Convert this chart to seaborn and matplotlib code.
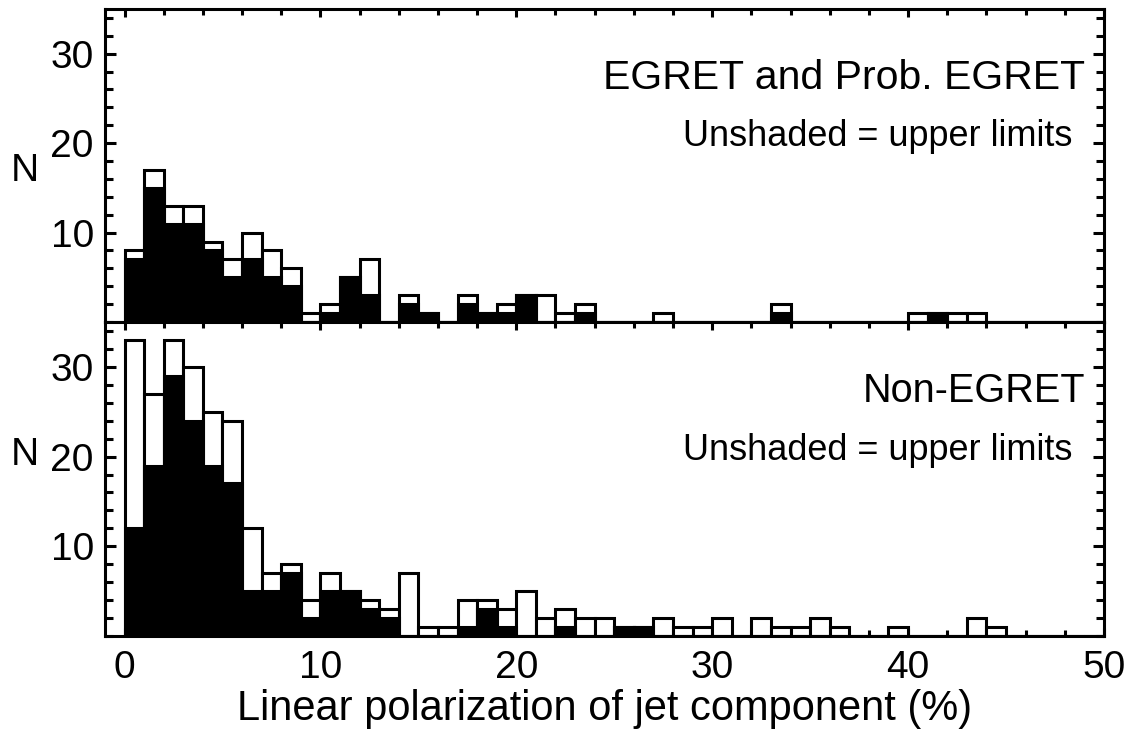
import numpy as np
import matplotlib
matplotlib.use("Agg")
import matplotlib.pyplot as plt
import seaborn as sns
from matplotlib.ticker import MultipleLocator

# counts per 1% bin, 0..50
bin_edges = list(range(0, 51))
bin_centers = [b + 0.5 for b in range(50)]

egret_total = [8, 17, 13, 13, 9, 7, 10, 8, 6, 1,
               2, 5, 7, 0, 3, 1, 0, 3, 1, 2,
               3, 3, 1, 2, 0, 0, 0, 1, 0, 0,
               0, 0, 0, 2, 0, 0, 0, 0, 0, 0,
               1, 1, 1, 1, 0, 0, 0, 0, 0, 0]
egret_detect = [7, 15, 11, 11, 8, 5, 7, 5, 4, 0,
                1, 5, 3, 0, 2, 1, 0, 2, 1, 1,
                3, 0, 0, 1, 0, 0, 0, 0, 0, 0,
                0, 0, 0, 1, 0, 0, 0, 0, 0, 0,
                0, 1, 0, 0, 0, 0, 0, 0, 0, 0]
non_total = [33, 27, 33, 30, 25, 24, 12, 7, 8, 4,
             7, 5, 4, 3, 7, 1, 1, 4, 4, 3,
             5, 2, 3, 2, 2, 1, 1, 2, 1, 1,
             2, 0, 2, 1, 1, 2, 1, 0, 0, 1,
             0, 0, 0, 2, 1, 0, 0, 0, 0, 0]
non_detect = [12, 19, 29, 24, 19, 17, 5, 5, 7, 2,
              5, 5, 3, 2, 0, 0, 0, 1, 3, 1,
              0, 0, 1, 0, 0, 1, 1, 0, 0, 0,
              0, 0, 0, 0, 0, 0, 0, 0, 0, 0,
              0, 0, 0, 0, 0, 0, 0, 0, 0, 0]

panel_titles = ["EGRET and Prob. EGRET", "Non-EGRET"]
note = "Unshaded = upper limits"
xlabel = "Linear polarization of jet component (%)"

sns.set_style("ticks")
plt.rcParams['font.family'] = ['Liberation Sans', 'DejaVu Sans']
plt.rcParams.update({"text.color": "black", "axes.labelcolor": "black",
                     "xtick.color": "black", "ytick.color": "black"})

LW = 2.2
fig = plt.figure(figsize=(11.37, 7.38), dpi=100)
ax1 = fig.add_axes([0.0923, 0.5637, 0.8786, 0.4241])
ax2 = fig.add_axes([0.0923, 0.1382, 0.8786, 0.4255])

panels = [(ax1, egret_total, egret_detect, 0.484, 29.5),
          (ax2, non_total, non_detect, 0.576, 28.5)]

for i, (ax, tot, det, ny, tsize) in enumerate(panels):
    sns.histplot(x=bin_centers, weights=tot, bins=bin_edges, color="white",
                 edgecolor="black", linewidth=LW, alpha=1, ax=ax)
    sns.histplot(x=bin_centers, weights=det, bins=bin_edges, color="black",
                 edgecolor="black", linewidth=LW, alpha=1, ax=ax)
    ax.set_xlim(-1, 50)
    ax.set_ylim(0, 35)
    ax.set_ylabel("")
    ax.set_xlabel("")
    for s in ax.spines.values():
        s.set_visible(True)
        s.set_linewidth(LW)
        s.set_color("black")
        s.set_zorder(5)
    ax.xaxis.set_major_locator(MultipleLocator(10))
    ax.xaxis.set_minor_locator(MultipleLocator(2))
    ax.yaxis.set_major_locator(MultipleLocator(10))
    ax.yaxis.set_minor_locator(MultipleLocator(2))
    ax.tick_params(axis="y", which="major", direction="in", length=8, width=LW,
                   left=True, right=True, labelsize=28, pad=8)
    ax.tick_params(axis="y", which="minor", direction="in", length=5.5, width=LW,
                   left=True, right=True)
    ax.tick_params(axis="x", which="major", direction="in", length=6, width=LW,
                   top=True, bottom=(i == 1), labelsize=28, pad=10)
    ax.tick_params(axis="x", which="minor", direction="in", length=4, width=LW,
                   top=True, bottom=(i == 1))
    ax.set_yticks([10, 20, 30])
    ax.set_yticklabels(["10", "20", "30"])
    ax.text(-0.08, ny, "N", transform=ax.transAxes, fontsize=28,
            ha="center", va="center")
    ax.text(0.981, 0.78, panel_titles[i], transform=ax.transAxes,
            fontsize=tsize, ha="right", va="center")
    ax.text(0.968, 0.592, note, transform=ax.transAxes,
            fontsize=26, ha="right", va="center")

ax1.tick_params(axis="x", labelbottom=False)
ax2.set_xlabel(xlabel, fontsize=30, labelpad=2)

fig.savefig("out.png", dpi=100)
